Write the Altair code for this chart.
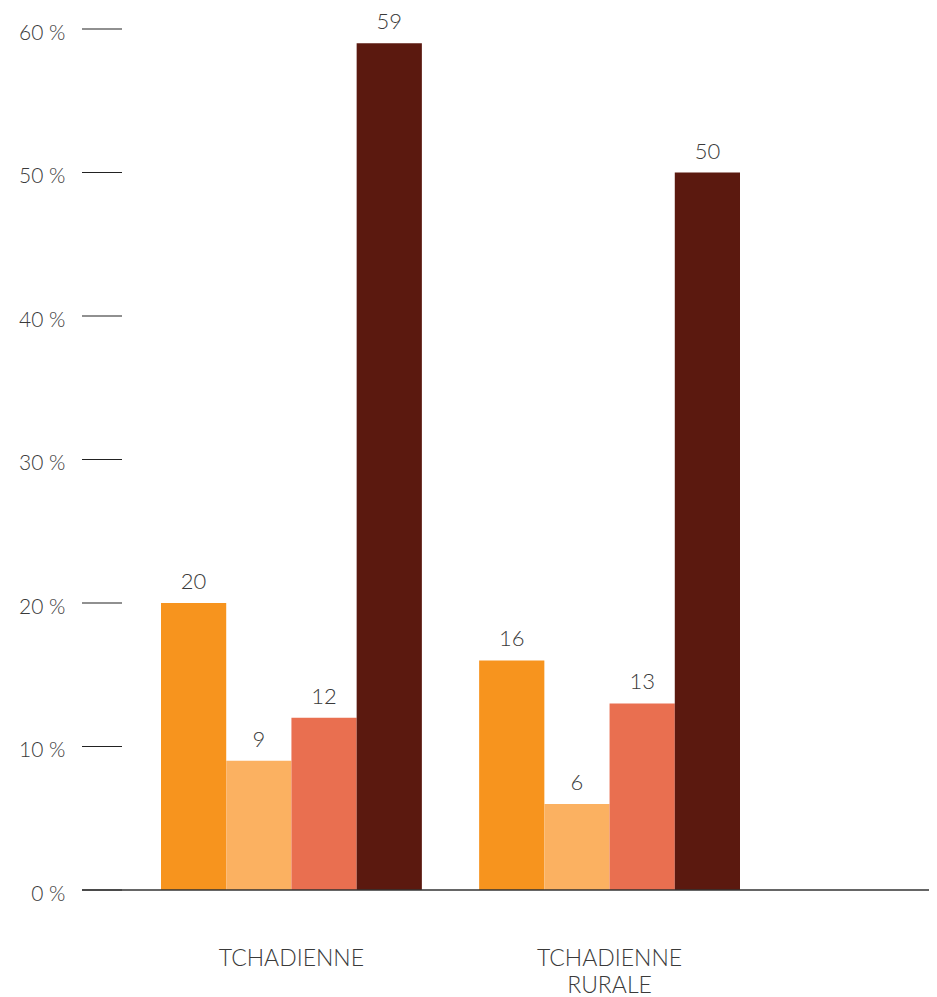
import altair as alt
import pandas as pd

categories = ["TCHADIENNE", "TCHADIENNE RURALE"]
series = ["Série 1", "Série 2", "Série 3", "Série 4"]
values_tchadienne = [20, 9, 12, 59]
values_rurale = [16, 6, 13, 50]
colors = ["#F7941E", "#FBB161", "#E96F50", "#5B190F"]
y_ticks = [0, 10, 20, 30, 40, 50, 60]

rows = []
for cat, vals in zip(categories, [values_tchadienne, values_rurale]):
    for s, v in zip(series, vals):
        rows.append({"cat": cat, "serie": s, "value": v})
df = pd.DataFrame(rows)
ticks_df = pd.DataFrame({"t": y_ticks})

FONT = "Lato"
TXT = "#3a3a3a"

x_enc = alt.X("cat:N", sort=categories, title=None,
              scale=alt.Scale(range=[79, 658], paddingInner=0.18, paddingOuter=0),
              axis=alt.Axis(domain=False, ticks=False, labelAngle=0,
                            labelExpr="split(datum.label, ' ')",
                            labelFont=FONT, labelFontSize=23, labelFontWeight=300,
                            labelColor=TXT, labelPadding=57, labelLineHeight=27,
                            labelBaseline="top"))
y_scale = alt.Scale(domain=[0, 60], nice=False)
y_enc = alt.Y("value:Q", scale=y_scale, title=None,
              axis=alt.Axis(values=y_ticks, domain=False, ticks=False, grid=False,
                            labelExpr="datum.value + ' %'", labelFont=FONT,
                            labelFontSize=21, labelFontWeight=300, labelColor=TXT,
                            labelPadding=17, labelOffset=4))
xoff = alt.XOffset("serie:N", sort=series,
                   scale=alt.Scale(paddingInner=0, paddingOuter=0))
color_enc = alt.Color("serie:N", sort=series,
                      scale=alt.Scale(domain=series, range=colors), legend=None)

base = alt.Chart(df)
bars = base.mark_bar(cornerRadius=0).encode(x=x_enc, xOffset=xoff, y=y_enc, color=color_enc)
labels = base.mark_text(font=FONT, fontSize=22, fontWeight=300, color=TXT,
                        baseline="middle", dy=-21).encode(
    x=alt.X("cat:N", sort=categories), xOffset=alt.XOffset("serie:N", sort=series),
    y=alt.Y("value:Q"), text=alt.Text("value:Q"))

tick_rules = alt.Chart(ticks_df).mark_rule(color="#222222", strokeWidth=1.2).encode(
    x=alt.value(0), x2=alt.value(40), y=alt.Y("t:Q", scale=y_scale))
baseline = alt.Chart(pd.DataFrame({"t": [0]})).mark_rule(color="#333333", strokeWidth=1.5).encode(
    x=alt.value(0), x2=alt.value(847), y=alt.Y("t:Q", scale=y_scale))

chart = alt.layer(bars, labels, tick_rules, baseline).properties(
    width=847, height=861,
    autosize=alt.AutoSizeParams(type="none"),
    padding={"left": 74, "top": 21, "right": 0, "bottom": 106},
).configure_view(stroke=None).configure_scale(bandPaddingInner=0)

chart.save("out.html", embed_options={"renderer": "svg", "actions": False})
